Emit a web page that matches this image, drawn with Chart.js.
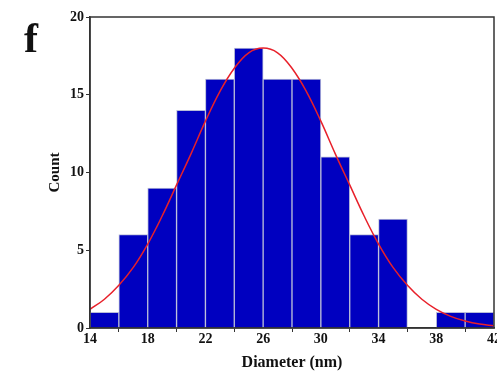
<!DOCTYPE html>
<html>
<head>
<meta charset="utf-8">
<script src="https://cdn.jsdelivr.net/npm/chart.js@4"></script>
<style>
  html, body { margin: 0; padding: 0; background: #fff; }
  #wrap { position: relative; width: 497px; height: 372px; }
  #panel { position: absolute; left: 24px; top: 14px; font: bold 42px "Liberation Serif", serif; color: #111; }
</style>
</head>
<body>
<div id="wrap">
  <canvas id="histChart" width="497" height="372"></canvas>
  <div id="panel">f</div>
</div>
<script>
// bin centres (bin width 2 nm) and counts
const binCenters = [15, 17, 19, 21, 23, 25, 27, 29, 31, 33, 35, 37, 39, 41]
const counts = [1, 6, 9, 14, 16, 18, 16, 16, 11, 6, 7, 0, 1, 1]

// fitted curve
const fitX = [14, 15, 16, 17, 18, 19, 20, 21, 22, 23, 24, 25, 26, 27, 28, 29, 30, 31, 32, 33, 34, 35, 36, 37, 38, 39, 40, 41, 42]
const fitY = [1.2, 1.85, 2.75, 3.9, 5.4, 7.2, 9.2, 11.2, 13.3, 15.2, 16.7, 17.7, 18, 17.7, 16.7, 15.2, 13.3, 11.2, 9.2, 7.2, 5.4, 3.9, 2.75, 1.85, 1.2, 0.75, 0.45, 0.25, 0.14]

const xTicks = [14, 18, 22, 26, 30, 34, 38, 42]
const yTicks = [0, 5, 10, 15, 20]

const tickFont = { family: "'Liberation Serif', serif", weight: "bold", size: 14 }

// frame around plot area
const framePlugin = {
  id: "frame",
  afterDraw(chart) {
    const { ctx, chartArea: a } = chart
    ctx.save()
    ctx.strokeStyle = "#333"
    ctx.lineWidth = 1.5
    ctx.strokeRect(a.left, a.top, a.right - a.left, a.bottom - a.top)
    ctx.restore()
  },
}

const ctx = document.getElementById("histChart")
new Chart(ctx, {
  data: {
    datasets: [
      {
        type: "line",
        data: fitX.map((x, i) => ({ x: x, y: fitY[i] })),
        borderColor: "#e8202a",
        borderWidth: 1.5,
        pointRadius: 0,
        tension: 0.4,
        fill: false,
        order: 0,
      },
      {
        type: "bar",
        data: binCenters.map((x, i) => ({ x: x, y: counts[i] })),
        backgroundColor: "#0000c0",
        borderColor: "#b8bcd8",
        borderWidth: 1,
        barPercentage: 1,
        categoryPercentage: 1,
        order: 1,
      },
    ],
  },
  options: {
    responsive: false,
    animation: false,
    layout: { padding: { left: 45, right: 3, top: 17, bottom: 0 } },
    plugins: {
      legend: { display: false },
      tooltip: { enabled: false },
    },
    scales: {
      x: {
        type: "linear",
        min: 14,
        max: 42,
        offset: false,
        afterBuildTicks: (scale) => {
          scale.ticks = xTicks.map((v) => ({ value: v }))
        },
        afterFit: (scale) => {
          scale.height = 44
          scale.paddingLeft = 0
          scale.paddingRight = 0
        },
        grid: { display: true, drawOnChartArea: false, tickLength: 4, color: "#333" },
        border: { color: "#333", width: 1.5 },
        ticks: { color: "#111", font: tickFont, padding: -1, maxRotation: 0 },
        title: {
          display: true,
          text: "Diameter (nm)",
          color: "#111",
          font: { family: "'Liberation Serif', serif", weight: "bold", size: 16 },
          padding: { top: -2, bottom: 0 },
        },
      },
      y: {
        type: "linear",
        min: 0,
        max: 20,
        afterBuildTicks: (scale) => {
          scale.ticks = yTicks.map((v) => ({ value: v }))
        },
        afterFit: (scale) => {
          scale.width = 45
        },
        grid: { display: true, drawOnChartArea: false, tickLength: 4, color: "#333" },
        border: { color: "#333", width: 1.5 },
        ticks: { color: "#111", font: tickFont, padding: 2 },
        title: {
          display: true,
          text: "Count",
          color: "#111",
          font: { family: "'Liberation Serif', serif", weight: "bold", size: 15 },
          padding: { top: 1, bottom: 0 },
        },
      },
    },
  },
  plugins: [framePlugin],
})
</script>
</body>
</html>
